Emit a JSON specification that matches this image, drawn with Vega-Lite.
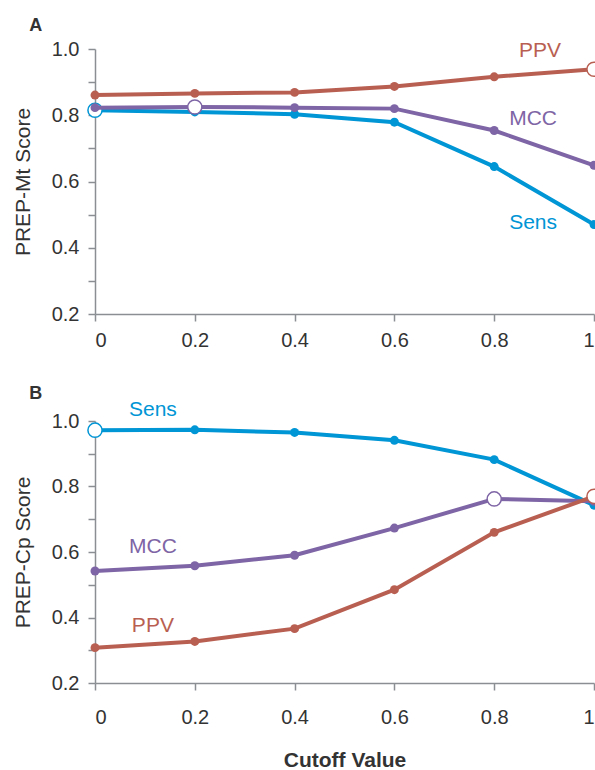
{
  "$schema": "https://vega.github.io/schema/vega-lite/v6.json",
  "background": "white",
  "padding": {"left": 12, "top": 17, "right": 0, "bottom": 0},
  "spacing": 35,
  "config": {
    "view": {"stroke": null},
    "font": "Liberation Sans",
    "axis": {
      "grid": false,
      "domainColor": "#8b8f94",
      "domainWidth": 1.5,
      "tickColor": "#8b8f94",
      "tickWidth": 1.5,
      "tickSize": 7,
      "labelFont": "Liberation Sans",
      "labelFontSize": 20,
      "labelColor": "#333333",
      "labelPadding": 9,
      "titleFont": "Liberation Sans",
      "titleFontSize": 21,
      "titleColor": "#333333",
      "titleFontWeight": "normal"
    },
    "title": {"font": "Liberation Sans", "fontSize": 18, "fontWeight": "bold", "color": "#333333", "anchor": "start"}
  },
  "datasets": {
    "scores": [
      {"panel": "A", "metric": "Sens", "cutoff": 0, "value": 0.815, "open": true},
      {"panel": "A", "metric": "Sens", "cutoff": 0.2, "value": 0.81, "open": false},
      {"panel": "A", "metric": "Sens", "cutoff": 0.4, "value": 0.803, "open": false},
      {"panel": "A", "metric": "Sens", "cutoff": 0.6, "value": 0.779, "open": false},
      {"panel": "A", "metric": "Sens", "cutoff": 0.8, "value": 0.645, "open": false},
      {"panel": "A", "metric": "Sens", "cutoff": 1, "value": 0.47, "open": false},
      {"panel": "A", "metric": "MCC", "cutoff": 0, "value": 0.823, "open": false},
      {"panel": "A", "metric": "MCC", "cutoff": 0.2, "value": 0.825, "open": true},
      {"panel": "A", "metric": "MCC", "cutoff": 0.4, "value": 0.823, "open": false},
      {"panel": "A", "metric": "MCC", "cutoff": 0.6, "value": 0.82, "open": false},
      {"panel": "A", "metric": "MCC", "cutoff": 0.8, "value": 0.754, "open": false},
      {"panel": "A", "metric": "MCC", "cutoff": 1, "value": 0.649, "open": false},
      {"panel": "A", "metric": "PPV", "cutoff": 0, "value": 0.861, "open": false},
      {"panel": "A", "metric": "PPV", "cutoff": 0.2, "value": 0.866, "open": false},
      {"panel": "A", "metric": "PPV", "cutoff": 0.4, "value": 0.869, "open": false},
      {"panel": "A", "metric": "PPV", "cutoff": 0.6, "value": 0.887, "open": false},
      {"panel": "A", "metric": "PPV", "cutoff": 0.8, "value": 0.916, "open": false},
      {"panel": "A", "metric": "PPV", "cutoff": 1, "value": 0.939, "open": true},
      {"panel": "B", "metric": "Sens", "cutoff": 0, "value": 0.972, "open": true},
      {"panel": "B", "metric": "Sens", "cutoff": 0.2, "value": 0.973, "open": false},
      {"panel": "B", "metric": "Sens", "cutoff": 0.4, "value": 0.965, "open": false},
      {"panel": "B", "metric": "Sens", "cutoff": 0.6, "value": 0.941, "open": false},
      {"panel": "B", "metric": "Sens", "cutoff": 0.8, "value": 0.882, "open": false},
      {"panel": "B", "metric": "Sens", "cutoff": 1, "value": 0.743, "open": false},
      {"panel": "B", "metric": "MCC", "cutoff": 0, "value": 0.542, "open": false},
      {"panel": "B", "metric": "MCC", "cutoff": 0.2, "value": 0.558, "open": false},
      {"panel": "B", "metric": "MCC", "cutoff": 0.4, "value": 0.59, "open": false},
      {"panel": "B", "metric": "MCC", "cutoff": 0.6, "value": 0.673, "open": false},
      {"panel": "B", "metric": "MCC", "cutoff": 0.8, "value": 0.762, "open": true},
      {"panel": "B", "metric": "MCC", "cutoff": 1, "value": 0.755, "open": false},
      {"panel": "B", "metric": "PPV", "cutoff": 0, "value": 0.308, "open": false},
      {"panel": "B", "metric": "PPV", "cutoff": 0.2, "value": 0.327, "open": false},
      {"panel": "B", "metric": "PPV", "cutoff": 0.4, "value": 0.366, "open": false},
      {"panel": "B", "metric": "PPV", "cutoff": 0.6, "value": 0.485, "open": false},
      {"panel": "B", "metric": "PPV", "cutoff": 0.8, "value": 0.66, "open": false},
      {"panel": "B", "metric": "PPV", "cutoff": 1, "value": 0.77, "open": true}
    ],
    "labels": [
      {"panel": "A", "metric": "PPV", "label": "PPV", "cutoff": 0.892, "value": 0.994},
      {"panel": "A", "metric": "MCC", "label": "MCC", "cutoff": 0.878, "value": 0.79},
      {"panel": "A", "metric": "Sens", "label": "Sens", "cutoff": 0.878, "value": 0.474},
      {"panel": "B", "metric": "Sens", "label": "Sens", "cutoff": 0.116, "value": 1.033},
      {"panel": "B", "metric": "MCC", "label": "MCC", "cutoff": 0.116, "value": 0.614},
      {"panel": "B", "metric": "PPV", "label": "PPV", "cutoff": 0.116, "value": 0.373}
    ]
  },
  "vconcat": [
    {
      "title": {"text": "A", "dx": 17, "offset": 4},
      "width": 499,
      "height": 265,
      "data": {"name": "scores"},
      "transform": [{"filter": "datum.panel == 'A'"}],
      "encoding": {
        "x": {"field": "cutoff", "type": "quantitative", "scale": {"domain": [0, 1]},
              "axis": {"values": [0, 0.2, 0.4, 0.6, 0.8, 1], "format": "~g", "title": null, "labelPadding": 9}},
        "y": {"field": "value", "type": "quantitative", "scale": {"domain": [0.2, 1]},
              "axis": {"values": [0.2, 0.3, 0.4, 0.5, 0.6, 0.7, 0.8, 0.9, 1.0], "format": ".1f",
                       "labelExpr": "round(datum.value*10) % 2 == 0 ? datum.label : ''",
                       "title": "PREP-Mt Score", "titlePadding": 18}},
        "color": {"field": "metric", "type": "nominal",
                  "scale": {"domain": ["PPV", "MCC", "Sens"], "range": ["#b95f52", "#7e65a5", "#0095d5"]},
                  "legend": null}
      },
      "layer": [
        {"transform": [{"filter": "datum.metric == 'Sens'"}], "mark": {"type": "line", "strokeWidth": 4}},
        {"transform": [{"filter": "datum.metric == 'Sens' && !datum.open"}], "mark": {"type": "point", "filled": true, "size": 80, "opacity": 1}},
        {"transform": [{"filter": "datum.metric == 'Sens' && datum.open"}], "mark": {"type": "point", "filled": false, "fill": "white", "size": 200, "strokeWidth": 1.5, "opacity": 1}},
        {"transform": [{"filter": "datum.metric == 'MCC'"}], "mark": {"type": "line", "strokeWidth": 4}},
        {"transform": [{"filter": "datum.metric == 'MCC' && !datum.open"}], "mark": {"type": "point", "filled": true, "size": 80, "opacity": 1}},
        {"transform": [{"filter": "datum.metric == 'MCC' && datum.open"}], "mark": {"type": "point", "filled": false, "fill": "white", "size": 200, "strokeWidth": 1.5, "opacity": 1}},
        {"transform": [{"filter": "datum.metric == 'PPV'"}], "mark": {"type": "line", "strokeWidth": 4}},
        {"transform": [{"filter": "datum.metric == 'PPV' && !datum.open"}], "mark": {"type": "point", "filled": true, "size": 80, "opacity": 1}},
        {"transform": [{"filter": "datum.metric == 'PPV' && datum.open"}], "mark": {"type": "point", "filled": false, "fill": "white", "size": 200, "strokeWidth": 1.5, "opacity": 1}},
        {"data": {"name": "labels"}, "transform": [{"filter": "datum.panel == 'A'"}],
         "mark": {"type": "text", "fontSize": 21, "font": "Liberation Sans", "align": "center", "baseline": "middle"},
         "encoding": {"text": {"field": "label"}}}
      ]
    },
    {
      "title": {"text": "B", "dx": 17, "offset": -4},
      "width": 499,
      "height": 262,
      "data": {"name": "scores"},
      "transform": [{"filter": "datum.panel == 'B'"}],
      "encoding": {
        "x": {"field": "cutoff", "type": "quantitative", "scale": {"domain": [0, 1]},
              "axis": {"values": [0, 0.2, 0.4, 0.6, 0.8, 1], "format": "~g", "title": "Cutoff Value",
                       "titleFontWeight": "bold", "titlePadding": 22, "labelPadding": 17}},
        "y": {"field": "value", "type": "quantitative", "scale": {"domain": [0.2, 1]},
              "axis": {"values": [0.2, 0.3, 0.4, 0.5, 0.6, 0.7, 0.8, 0.9, 1.0], "format": ".1f",
                       "labelExpr": "round(datum.value*10) % 2 == 0 ? datum.label : ''",
                       "title": "PREP-Cp Score", "titlePadding": 18}},
        "color": {"field": "metric", "type": "nominal",
                  "scale": {"domain": ["PPV", "MCC", "Sens"], "range": ["#b95f52", "#7e65a5", "#0095d5"]},
                  "legend": null}
      },
      "layer": [
        {"transform": [{"filter": "datum.metric == 'Sens'"}], "mark": {"type": "line", "strokeWidth": 4}},
        {"transform": [{"filter": "datum.metric == 'Sens' && !datum.open"}], "mark": {"type": "point", "filled": true, "size": 80, "opacity": 1}},
        {"transform": [{"filter": "datum.metric == 'Sens' && datum.open"}], "mark": {"type": "point", "filled": false, "fill": "white", "size": 200, "strokeWidth": 1.5, "opacity": 1}},
        {"transform": [{"filter": "datum.metric == 'MCC'"}], "mark": {"type": "line", "strokeWidth": 4}},
        {"transform": [{"filter": "datum.metric == 'MCC' && !datum.open"}], "mark": {"type": "point", "filled": true, "size": 80, "opacity": 1}},
        {"transform": [{"filter": "datum.metric == 'MCC' && datum.open"}], "mark": {"type": "point", "filled": false, "fill": "white", "size": 200, "strokeWidth": 1.5, "opacity": 1}},
        {"transform": [{"filter": "datum.metric == 'PPV'"}], "mark": {"type": "line", "strokeWidth": 4}},
        {"transform": [{"filter": "datum.metric == 'PPV' && !datum.open"}], "mark": {"type": "point", "filled": true, "size": 80, "opacity": 1}},
        {"transform": [{"filter": "datum.metric == 'PPV' && datum.open"}], "mark": {"type": "point", "filled": false, "fill": "white", "size": 200, "strokeWidth": 1.5, "opacity": 1}},
        {"data": {"name": "labels"}, "transform": [{"filter": "datum.panel == 'B'"}],
         "mark": {"type": "text", "fontSize": 21, "font": "Liberation Sans", "align": "center", "baseline": "middle"},
         "encoding": {"text": {"field": "label"}}}
      ]
    }
  ]
}
